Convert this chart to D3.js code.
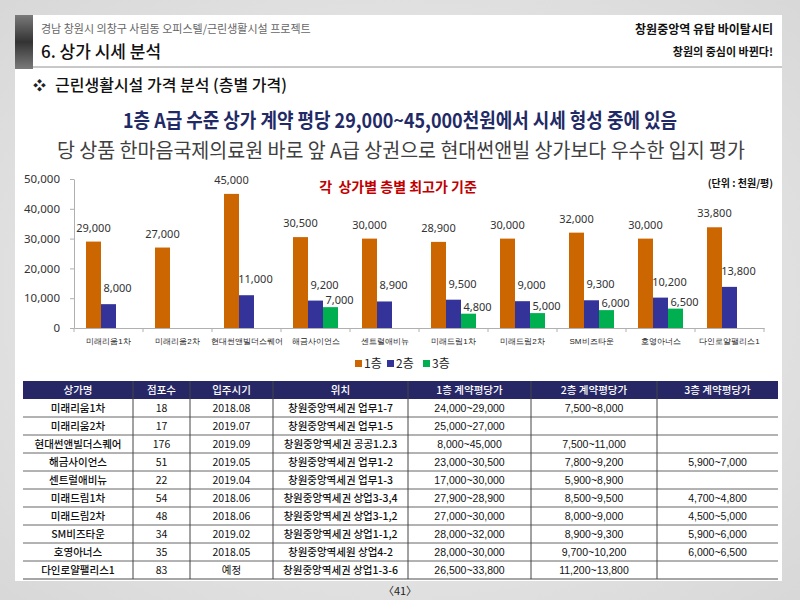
<!DOCTYPE html>
<html><head><meta charset="utf-8">
<script src="https://cdn.jsdelivr.net/npm/d3@7"></script>
<style>
html,body{margin:0;padding:0;width:800px;height:600px;overflow:hidden;background:#e4e4e4;}
svg{display:block;font-family:"Noto Sans CJK KR","Noto Sans",sans-serif;}
</style></head>
<body>
<svg id="c" width="800" height="600"></svg>
<script>
// ---- data ----
const categories = ["미래리움1차","미래리움2차","현대썬앤빌더스퀘어","해금사이언스","센트럴애비뉴","미래드림1차","미래드림2차","SM비즈타운","호영아너스","다인로얄팰리스1"];
const seriesNames = ["1층","2층","3층"];
const floor1 = [29000,27000,45000,30500,30000,28900,30000,32000,30000,33800];
const floor2 = [8000,null,11000,9200,8900,9500,9000,9300,10200,13800];
const floor3 = [null,null,null,7000,null,4800,5000,6000,6500,null];
const yTicks = [0,10000,20000,30000,40000,50000];

const tableHeader = ["상가명","점포수","입주시기","위치","1층 계약평당가","2층 계약평당가","3층 계약평당가"];
const storeCounts = ["18","17","176","51","22","54","48","34","35","83"];
const moveIn = ["2018.08","2019.07","2019.09","2019.05","2019.04","2018.06","2018.06","2019.02","2018.05","예정"];
const locations = ["창원중앙역세권 업무1-7","창원중앙역세권 업무1-5","창원중앙역세권 공공1.2.3","창원중앙역세권 업무1-2","창원중앙역세권 업무1-3","창원중앙역세권 상업3-3,4","창원중앙역세권 상업3-1,2","창원중앙역세권 상업1-1,2","창원중앙역세원 상업4-2","창원중앙역세권 상업1-3-6"];
const range1 = ["24,000~29,000","25,000~27,000","8,000~45,000","23,000~30,500","17,000~30,000","27,900~28,900","27,000~30,000","28,000~32,000","28,000~30,000","26,500~33,800"];
const range2 = ["7,500~8,000","","7,500~11,000","7,800~9,200","5,900~8,900","8,500~9,500","8,000~9,000","8,900~9,300","9,700~10,200","11,200~13,800"];
const range3 = ["","","","5,900~7,000","","4,700~4,800","4,500~5,000","5,900~6,000","6,000~6,500",""];

const colors = ["#cc6600","#333399","#00b050"];

const svg = d3.select("#c");
const defs = svg.append("defs");

// background gradient
const bg = defs.append("radialGradient").attr("id","bg").attr("cx","50%").attr("cy","50%").attr("r","70%");
bg.append("stop").attr("offset","0%").attr("stop-color","#f2f2f2");
bg.append("stop").attr("offset","100%").attr("stop-color","#d8d8d8");
svg.append("rect").attr("width",800).attr("height",600).attr("fill","url(#bg)");

// page
svg.append("rect").attr("x",15).attr("y",15).attr("width",767).attr("height",566).attr("fill","#ffffff");

// left dark bar
const lg = defs.append("linearGradient").attr("id","lb").attr("x1",0).attr("y1",0).attr("x2",0).attr("y2",1);
lg.append("stop").attr("offset","0%").attr("stop-color","#7a7a7a");
lg.append("stop").attr("offset","50%").attr("stop-color","#333333");
lg.append("stop").attr("offset","100%").attr("stop-color","#7a7a7a");
svg.append("rect").attr("x",15).attr("y",15).attr("width",18).attr("height",54).attr("fill","url(#lb)");
// header line
svg.append("rect").attr("x",33).attr("y",66).attr("width",749).attr("height",2).attr("fill","#c8c8c8");

// header texts
svg.append("text").attr("x",41).attr("y",33).attr("font-size",11).attr("fill","#666")
  .text("경남 창원시 의창구 사림동 오피스텔/근린생활시설 프로젝트");
svg.append("text").attr("x",41).attr("y",58).attr("font-size",17).attr("fill","#111").attr("font-weight",500)
  .text("6. 상가 시세 분석");
svg.append("text").attr("x",773).attr("y",34).attr("text-anchor","end").attr("font-size",12).attr("font-weight",700).attr("fill","#111")
  .text("창원중앙역 유탑 바이탈시티");
svg.append("text").attr("x",773).attr("y",56).attr("text-anchor","end").attr("font-size",11).attr("font-weight",700).attr("fill","#111")
  .text("창원의 중심이 바뀐다!");

svg.append("text").attr("x",33).attr("y",90).attr("font-size",13).attr("fill","#222").text("❖");
svg.append("text").attr("x",55).attr("y",91).attr("font-size",16).attr("font-weight",500).attr("fill","#111")
  .text("근린생활시설 가격 분석 (층별 가격)");

svg.append("text").attr("x",400).attr("y",128).attr("text-anchor","middle").attr("font-size",20).attr("font-weight",700)
  .attr("fill","#1f2a66").attr("textLength",554).attr("lengthAdjust","spacingAndGlyphs")
  .text("1층 A급 수준 상가 계약 평당 29,000~45,000천원에서 시세 형성 중에 있음");
svg.append("text").attr("x",401).attr("y",158).attr("text-anchor","middle").attr("font-size",20).attr("font-weight",400)
  .attr("fill","#404040").attr("textLength",688).attr("lengthAdjust","spacingAndGlyphs")
  .text("당 상품 한마음국제의료원 바로 앞 A급 상권으로 현대썬앤빌 상가보다 우수한 입지 평가");

// ---- chart ----
const x0 = d3.scaleBand().domain(categories).range([74,764]).paddingInner(0).paddingOuter(0);
const x1 = d3.scaleBand().domain(seriesNames).range([12, 57]);
const y = d3.scaleLinear().domain([0,50000]).range([328,179]);

const g = svg.append("g");
const yAxis = g.append("g").attr("transform","translate(74,0)")
  .call(d3.axisLeft(y).tickValues(yTicks).tickFormat(d3.format(",")).tickSize(4).tickSizeOuter(0));
yAxis.selectAll("text").attr("font-size",11.5).attr("fill","#333").attr("font-family","'Noto Sans',sans-serif").attr("x",-14);
yAxis.selectAll("line,path").attr("stroke","#b0b0b0");

const xAxis = g.append("g").attr("transform","translate(0,328)")
  .call(d3.axisBottom(x0).tickSize(0).tickSizeOuter(0));
xAxis.select("path").attr("stroke","#b0b0b0");
xAxis.selectAll("text").attr("font-size",8).attr("fill","#222").attr("dy",0).attr("y",16);
// band boundary ticks
g.selectAll("line.bt").data(categories.concat(["__end"])).join("line")
  .attr("x1",(d,i)=> i<categories.length ? x0(d) : x0.range()[1])
  .attr("x2",(d,i)=> i<categories.length ? x0(d) : x0.range()[1])
  .attr("y1",328).attr("y2",332).attr("stroke","#b0b0b0");

const series = [floor1, floor2, floor3];
const labelDx = [0, 9, 9];
const labelDy = [10, 12, 3];
series.forEach((vals, si) => {
  const pts = categories.map((c,i)=>({c, v: vals[i]})).filter(d=>d.v!=null);
  g.selectAll(null).data(pts).join("rect")
    .attr("x", d=> x0(d.c)+x1(seriesNames[si]))
    .attr("y", d=> y(d.v))
    .attr("width", x1.bandwidth())
    .attr("height", d=> y(0)-y(d.v))
    .attr("fill", colors[si]);
  g.selectAll(null).data(pts).join("text")
    .attr("x", d=> x0(d.c)+x1(seriesNames[si])+x1.bandwidth()/2+labelDx[si])
    .attr("y", d=> y(d.v)-labelDy[si])
    .attr("text-anchor","middle").attr("font-size",11).attr("fill","#333")
    .attr("font-family","'Noto Sans',sans-serif")
    .text(d=> d3.format(",")(d.v));
});

// chart title & unit
svg.append("text").attr("x",398).attr("y",192).attr("text-anchor","middle").attr("font-size",14).attr("font-weight",700)
  .attr("fill","#c00000").attr("xml:space","preserve").text("각  상가별 층별 최고가 기준");
svg.append("text").attr("x",773).attr("y",187).attr("text-anchor","end").attr("font-size",10).attr("font-weight",700)
  .attr("fill","#111").text("(단위 : 천원/평)");

// legend
const legX = [355, 387, 423];
seriesNames.forEach((s,i)=>{
  svg.append("rect").attr("x",legX[i]).attr("y",360).attr("width",7).attr("height",7).attr("fill",colors[i]);
  svg.append("text").attr("x",legX[i]+9).attr("y",368).attr("font-size",12).attr("fill","#222").text(s);
});

// ---- table ----
const colEdges = [23,133,190,273,408,531,657,778];
const headerTop = 381, headerH = 18, rowH = 18;
const rows = categories.map((c,i)=>[c, storeCounts[i], moveIn[i], locations[i], range1[i], range2[i], range3[i]]);
const tg = svg.append("g");
tg.append("rect").attr("x",colEdges[0]).attr("y",headerTop).attr("width",colEdges[7]-colEdges[0]).attr("height",headerH).attr("fill","#272766");
tableHeader.forEach((h,j)=>{
  tg.append("text").attr("x",(colEdges[j]+colEdges[j+1])/2).attr("y",headerTop+13)
    .attr("text-anchor","middle").attr("font-size",10.5).attr("fill","#fff").attr("font-weight",500).text(h);
});
rows.forEach((r,i)=>{
  const top = headerTop+headerH+i*rowH;
  r.forEach((v,j)=>{
    tg.append("text").attr("x",(colEdges[j]+colEdges[j+1])/2).attr("y",top+13)
      .attr("text-anchor","middle").attr("font-size",10.5).attr("fill","#111")
      .attr("font-weight", j===0||j===3 ? 500 : 400)
      .attr("font-family", j>=4 ? "'Liberation Sans',sans-serif" : null)
      .text(v);
  });
  tg.append("line").attr("x1",colEdges[0]).attr("x2",colEdges[7]).attr("y1",top+rowH).attr("y2",top+rowH)
    .attr("stroke", i===rows.length-1 ? "#888" : "#666").attr("stroke-width", i===rows.length-1 ? 1.5 : 1);
});
const tableBottom = headerTop+headerH+rows.length*rowH;
colEdges.slice(1,7).forEach(xx=>{
  tg.append("line").attr("x1",xx).attr("x2",xx).attr("y1",headerTop).attr("y2",tableBottom).attr("stroke","#444").attr("stroke-width",1);
});

// page number
svg.append("text").attr("x",400).attr("y",595).attr("text-anchor","middle").attr("font-size",11).attr("fill","#222").text("〈41〉");
</script>
</body></html>
